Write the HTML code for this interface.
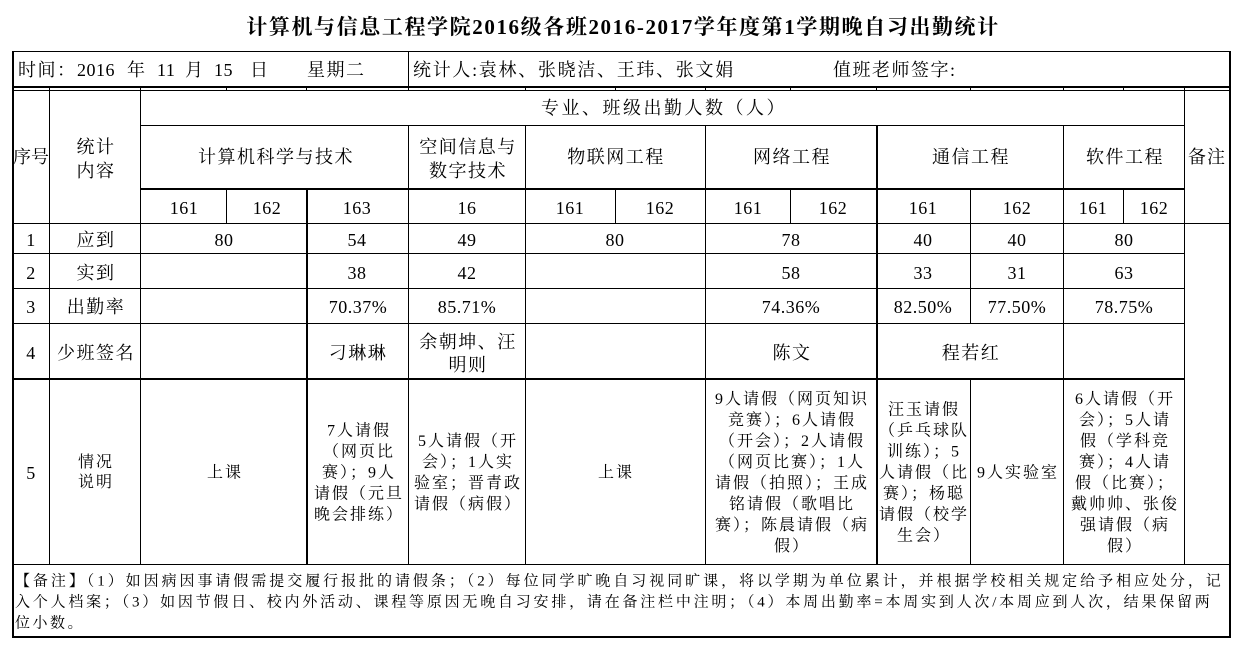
<!DOCTYPE html>
<html><head><meta charset="utf-8">
<style>
body{margin:0;background:#fff;}
#c{position:relative;width:1241px;height:646px;overflow:hidden;background:#fff;color:#000;font-family:"Liberation Serif","Noto Serif CJK SC",serif;}
.l{position:absolute;background:#000;}
.t{position:absolute;transform:translate(-50%,-50%);white-space:nowrap;text-align:center;font-size:18px;letter-spacing:1.5px;line-height:20px;}
.a{position:absolute;transform:translateY(-50%);white-space:nowrap;font-size:18px;letter-spacing:1.5px;line-height:20px;}
.n{font-size:18px;letter-spacing:0.5px;}
.p{font-size:18px;letter-spacing:0.5px;}
.s{font-size:16px;letter-spacing:2px;line-height:21px;}
.j{position:absolute;transform:translateY(-50%);font-size:15px;letter-spacing:2.2px;line-height:21px;text-align:justify;text-align-last:justify;}
</style></head><body><div id="c">

<!-- horizontal lines -->
<div class="l" style="left:12px;top:51px;width:1219px;height:1px"></div>
<div class="l" style="left:12px;top:86px;width:1219px;height:2px"></div>
<div class="l" style="left:12px;top:90px;width:1219px;height:1px"></div>
<div class="l" style="left:140px;top:125px;width:1045px;height:1px"></div>
<div class="l" style="left:140px;top:188px;width:1045px;height:2px"></div>
<div class="l" style="left:12px;top:223px;width:1219px;height:1px"></div>
<div class="l" style="left:12px;top:253px;width:1173px;height:1px"></div>
<div class="l" style="left:12px;top:288px;width:1173px;height:1px"></div>
<div class="l" style="left:12px;top:323px;width:1173px;height:1px"></div>
<div class="l" style="left:12px;top:378px;width:1173px;height:2px"></div>
<div class="l" style="left:12px;top:564px;width:1219px;height:1px"></div>
<div class="l" style="left:12px;top:636px;width:1219px;height:2px"></div>

<!-- vertical lines -->
<div class="l" style="left:12px;top:51px;width:2px;height:587px"></div>
<div class="l" style="left:1229px;top:51px;width:2px;height:587px"></div>
<div class="l" style="left:408px;top:51px;width:1px;height:36px"></div>
<div class="l" style="left:49px;top:88px;width:1px;height:476px"></div>
<div class="l" style="left:140px;top:88px;width:1px;height:476px"></div>
<div class="l" style="left:1184px;top:88px;width:1px;height:476px"></div>

<div class="l" style="left:226px;top:88px;width:1px;height:2px"></div>
<div class="l" style="left:226px;top:188px;width:1px;height:36px"></div>
<div class="l" style="left:306px;top:88px;width:1px;height:2px"></div>
<div class="l" style="left:306px;top:188px;width:2px;height:376px"></div>
<div class="l" style="left:408px;top:88px;width:1px;height:2px"></div>
<div class="l" style="left:408px;top:125px;width:1px;height:439px"></div>
<div class="l" style="left:525px;top:88px;width:1px;height:2px"></div>
<div class="l" style="left:525px;top:125px;width:1px;height:439px"></div>
<div class="l" style="left:615px;top:88px;width:1px;height:2px"></div>
<div class="l" style="left:615px;top:188px;width:1px;height:36px"></div>
<div class="l" style="left:705px;top:88px;width:1px;height:2px"></div>
<div class="l" style="left:705px;top:125px;width:1px;height:439px"></div>
<div class="l" style="left:790px;top:88px;width:1px;height:2px"></div>
<div class="l" style="left:790px;top:188px;width:1px;height:36px"></div>
<div class="l" style="left:876px;top:88px;width:1px;height:2px"></div>
<div class="l" style="left:876px;top:125px;width:2px;height:439px"></div>
<div class="l" style="left:970px;top:88px;width:1px;height:2px"></div>
<div class="l" style="left:970px;top:188px;width:1px;height:135px"></div>
<div class="l" style="left:970px;top:378px;width:1px;height:186px"></div>
<div class="l" style="left:1063px;top:88px;width:1px;height:2px"></div>
<div class="l" style="left:1063px;top:125px;width:1px;height:439px"></div>
<div class="l" style="left:1123px;top:88px;width:1px;height:2px"></div>
<div class="l" style="left:1123px;top:188px;width:1px;height:36px"></div>

<!-- title -->
<div class="t" style="left:623px;top:27px;font-size:21px;font-weight:bold;letter-spacing:1.6px;line-height:26px">计算机与信息工程学院2016级各班2016-2017学年度第1学期晚自习出勤统计</div>

<!-- info row -->
<div class="a" style="left:18px;top:70px">时间：</div>
<div class="a" style="left:77px;top:70px;letter-spacing:0.5px">2016</div>
<div class="a" style="left:127px;top:70px">年</div>
<div class="a" style="left:157px;top:70px;letter-spacing:0.5px">11</div>
<div class="a" style="left:185px;top:70px">月</div>
<div class="a" style="left:214px;top:70px;letter-spacing:0.5px">15</div>
<div class="a" style="left:250px;top:70px">日</div>
<div class="a" style="left:307px;top:70px">星期二</div>
<div class="a" style="left:413px;top:70px;letter-spacing:1.7px">统计人:袁林、张晓洁、王玮、张文娟</div>
<div class="a" style="left:833px;top:70px">值班老师签字:</div>

<!-- header -->
<div class="t" style="left:31px;top:157px;letter-spacing:0px">序号</div>
<div class="t" style="left:96px;top:159px;line-height:24px">统计<br>内容</div>
<div class="t" style="left:664px;top:108px;letter-spacing:2.5px">专业、班级出勤人数（人）</div>
<div class="t" style="left:276px;top:157px">计算机科学与技术</div>
<div class="t" style="left:468px;top:159px;line-height:24px">空间信息与<br>数字技术</div>
<div class="t" style="left:616px;top:157px">物联网工程</div>
<div class="t" style="left:792px;top:157px">网络工程</div>
<div class="t" style="left:971px;top:157px">通信工程</div>
<div class="t" style="left:1125px;top:157px">软件工程</div>
<div class="t" style="left:1207px;top:157px;letter-spacing:1px">备注</div>

<!-- class numbers -->
<div class="t n" style="left:184px;top:208px">161</div>
<div class="t n" style="left:267px;top:208px">162</div>
<div class="t n" style="left:357px;top:208px">163</div>
<div class="t n" style="left:467px;top:208px">16</div>
<div class="t n" style="left:570px;top:208px">161</div>
<div class="t n" style="left:660px;top:208px">162</div>
<div class="t n" style="left:748px;top:208px">161</div>
<div class="t n" style="left:833px;top:208px">162</div>
<div class="t n" style="left:923px;top:208px">161</div>
<div class="t n" style="left:1017px;top:208px">162</div>
<div class="t n" style="left:1093px;top:208px">161</div>
<div class="t n" style="left:1154px;top:208px">162</div>

<!-- row 1 -->
<div class="t n" style="left:31px;top:240px">1</div>
<div class="t" style="left:96px;top:240px">应到</div>
<div class="t n" style="left:224px;top:240px">80</div>
<div class="t n" style="left:357px;top:240px">54</div>
<div class="t n" style="left:467px;top:240px">49</div>
<div class="t n" style="left:615px;top:240px">80</div>
<div class="t n" style="left:791px;top:240px">78</div>
<div class="t n" style="left:923px;top:240px">40</div>
<div class="t n" style="left:1017px;top:240px">40</div>
<div class="t n" style="left:1124px;top:240px">80</div>

<!-- row 2 -->
<div class="t n" style="left:31px;top:273px">2</div>
<div class="t" style="left:96px;top:273px">实到</div>
<div class="t n" style="left:357px;top:273px">38</div>
<div class="t n" style="left:467px;top:273px">42</div>
<div class="t n" style="left:791px;top:273px">58</div>
<div class="t n" style="left:923px;top:273px">33</div>
<div class="t n" style="left:1017px;top:273px">31</div>
<div class="t n" style="left:1124px;top:273px">63</div>

<!-- row 3 -->
<div class="t n" style="left:31px;top:307px">3</div>
<div class="t" style="left:96px;top:307px">出勤率</div>
<div class="t p" style="left:358px;top:307px">70.37%</div>
<div class="t p" style="left:467px;top:307px">85.71%</div>
<div class="t p" style="left:791px;top:307px">74.36%</div>
<div class="t p" style="left:923px;top:307px">82.50%</div>
<div class="t p" style="left:1017px;top:307px">77.50%</div>
<div class="t p" style="left:1124px;top:307px">78.75%</div>

<!-- row 4 -->
<div class="t n" style="left:31px;top:353px">4</div>
<div class="t" style="left:96px;top:353px">少班签名</div>
<div class="t" style="left:358px;top:353px">刁琳琳</div>
<div class="t" style="left:468px;top:354px;line-height:23px">余朝坤、汪<br>明则</div>
<div class="t" style="left:792px;top:353px">陈文</div>
<div class="t" style="left:971px;top:353px">程若红</div>

<!-- row 5 -->
<div class="t n" style="left:31px;top:473px">5</div>
<div class="t s" style="left:96px;top:473px;line-height:20px">情况<br>说明</div>
<div class="t s" style="left:225px;top:473px">上课</div>
<div class="t s" style="left:359px;top:473px">7人请假<br>（网页比<br>赛）；9人<br>请假（元旦<br>晚会排练）</div>
<div class="t s" style="left:468px;top:473px">5人请假（开<br>会）；1人实<br>验室；晋青政<br>请假（病假）</div>
<div class="t s" style="left:616px;top:473px">上课</div>
<div class="t s" style="left:792px;top:473px">9人请假（网页知识<br>竞赛）；6人请假<br>（开会）；2人请假<br>（网页比赛）；1人<br>请假（拍照）；王成<br>铭请假（歌唱比<br>赛）；陈晨请假（病<br>假）</div>
<div class="t s" style="left:924px;top:473px">汪玉请假<br>（乒乓球队<br>训练）；5<br>人请假（比<br>赛）；杨聪<br>请假（校学<br>生会）</div>
<div class="t s" style="left:1018px;top:473px">9人实验室</div>
<div class="t s" style="left:1125px;top:473px">6人请假（开<br>会）；5人请<br>假（学科竞<br>赛）；4人请<br>假（比赛）；<br>戴帅帅、张俊<br>强请假（病<br>假）</div>

<!-- note -->
<div class="j" style="left:15px;top:582px;width:1208px">【备注】（1）如因病因事请假需提交履行报批的请假条；（2）每位同学旷晚自习视同旷课，将以学期为单位累计，并根据学校相关规定给予相应处分，记</div>
<div class="j" style="left:15px;top:603px;width:1197px">入个人档案；（3）如因节假日、校内外活动、课程等原因无晚自习安排，请在备注栏中注明；（4）本周出勤率=本周实到人次/本周应到人次，结果保留两</div>
<div class="a" style="left:15px;top:624px;font-size:15px;letter-spacing:2.5px;line-height:21px">位小数。</div>

</div></body></html>
